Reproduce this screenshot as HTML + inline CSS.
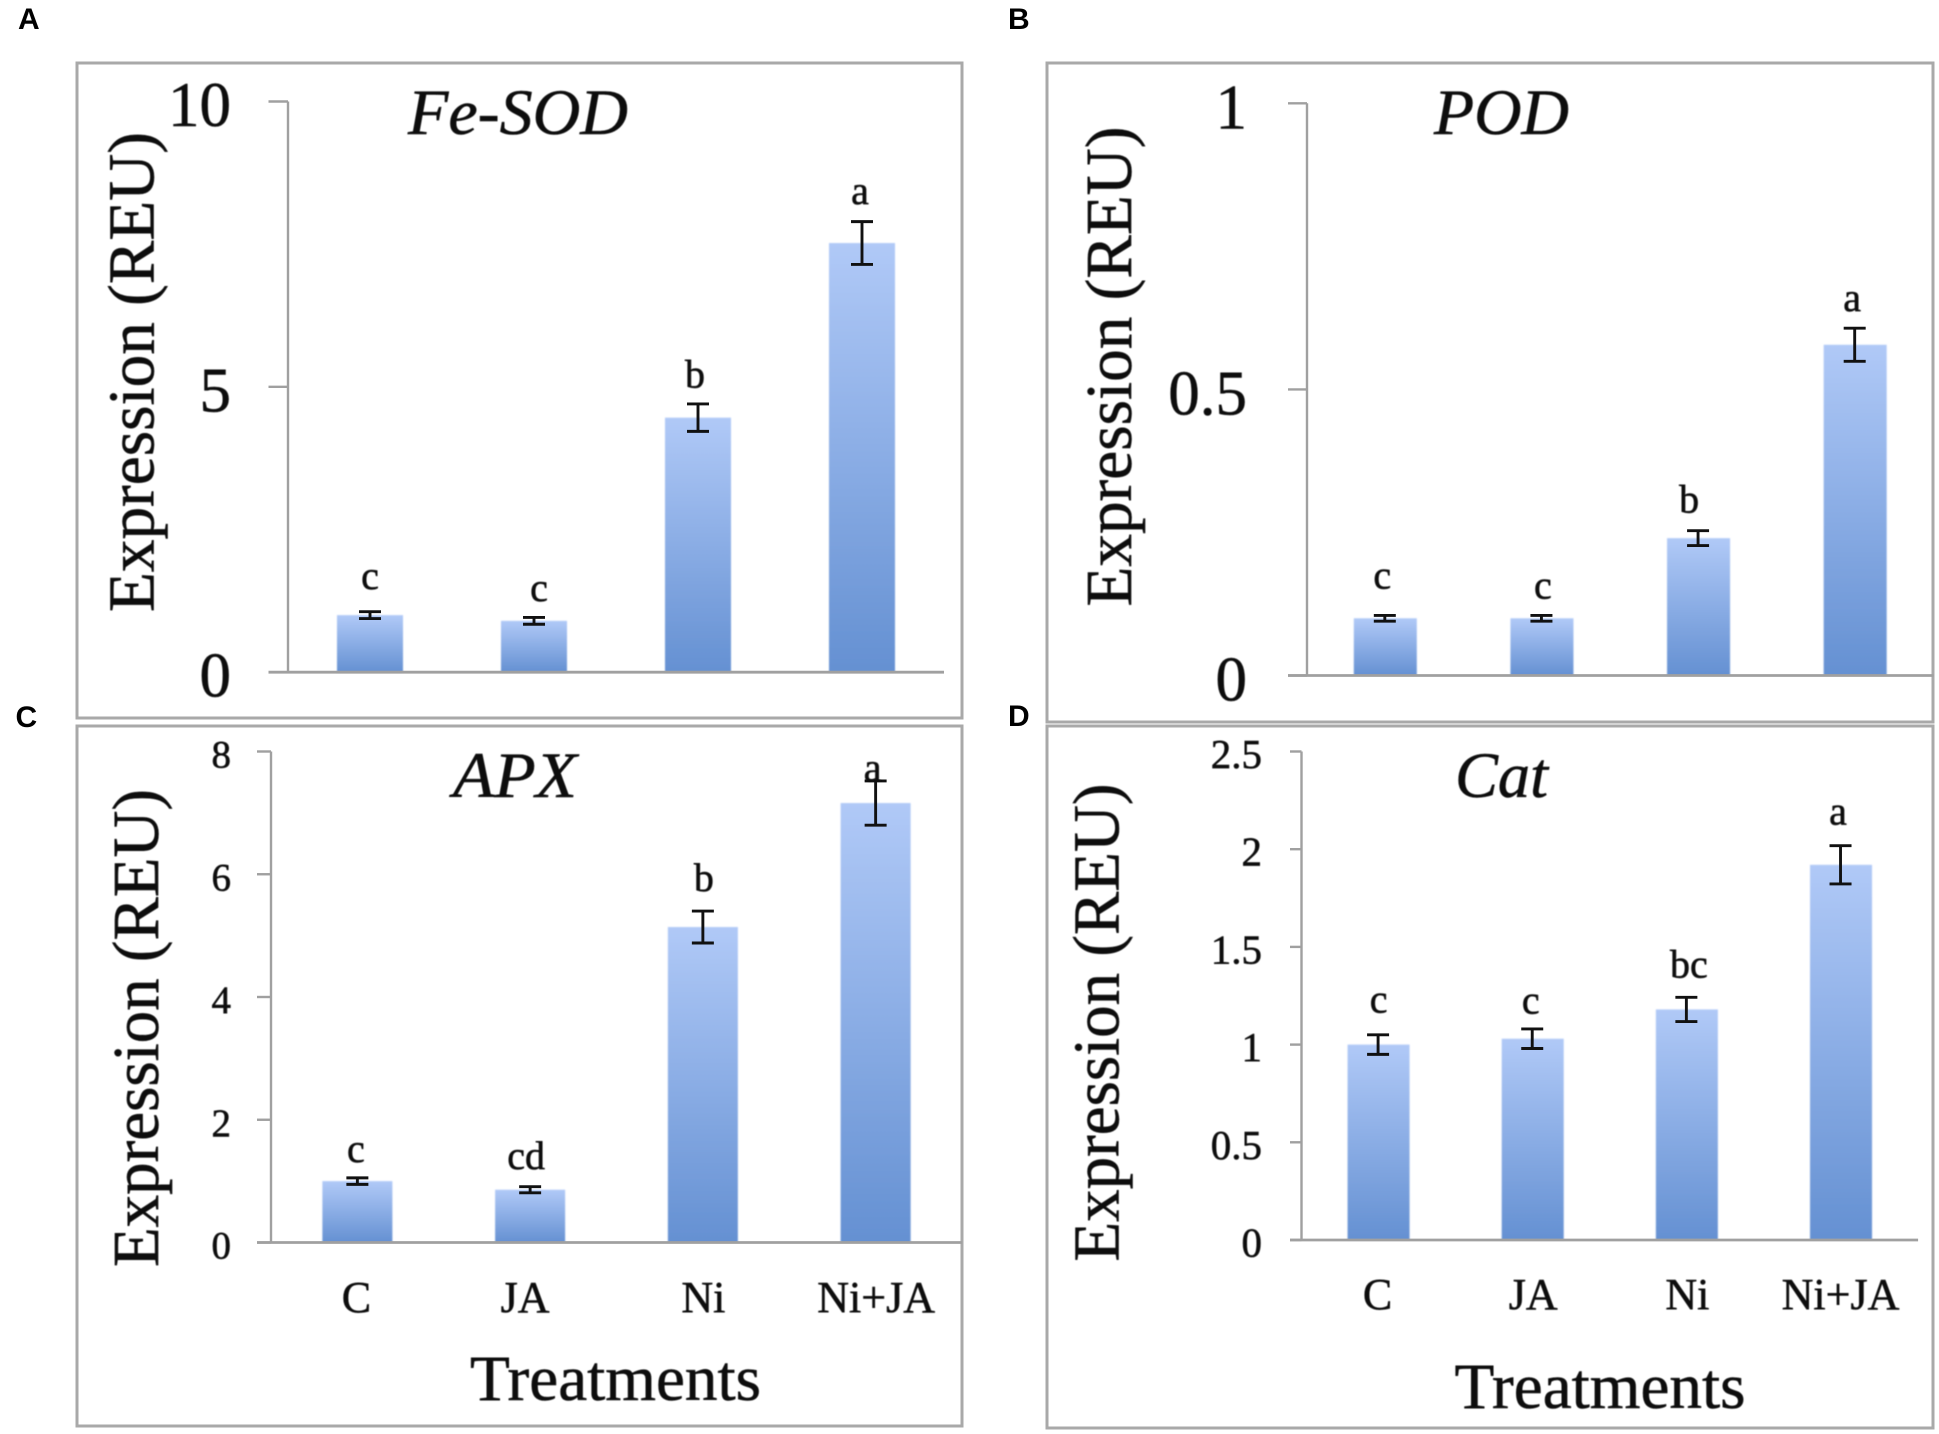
<!DOCTYPE html>
<html lang="en">
<head>
<meta charset="utf-8">
<title>Relative expression of antioxidant genes</title>
<style>
html,body{margin:0;padding:0;background:#fff;width:1939px;height:1434px;overflow:hidden}
svg{display:block}
text{font-family:"Liberation Serif",serif;fill:#0c0c0c;stroke:#0c0c0c;stroke-width:0.55px}
.panel-letter{font-family:"Liberation Sans",sans-serif;font-weight:700;font-size:30px;fill:#000;stroke:none}
.title{font-style:italic;font-size:65px}
.ylab{font-size:66px}
.xlab{font-size:65px}
.frame{fill:none;stroke:#a9a9a9;stroke-width:3}
.soft{filter:url(#soft)}
</style>
</head>
<body>
<svg id="figure" xmlns="http://www.w3.org/2000/svg" width="1939" height="1434" viewBox="0 0 1939 1434">
  <defs>
    <linearGradient id="barGrad" x1="0" y1="0" x2="0" y2="1">
      <stop offset="0" stop-color="#b0c9f7"/>
      <stop offset="1" stop-color="#6490d2"/>
    </linearGradient>
    <filter id="soft" x="-10%" y="-10%" width="120%" height="120%"><feGaussianBlur stdDeviation="0.9"/></filter>
    <filter id="textSoft" x="-5%" y="-5%" width="110%" height="110%"><feGaussianBlur stdDeviation="0.5"/></filter>
  </defs>

  <rect class="frame" x="77" y="63" width="885" height="655"/>
  <rect class="frame" x="1047" y="63" width="886" height="659"/>
  <rect class="frame" x="77" y="726" width="885" height="700"/>
  <rect class="frame" x="1047" y="726" width="886" height="702"/>

  <text class="panel-letter" x="18" y="29">A</text>
  <text class="panel-letter" x="1008" y="29">B</text>
  <text class="panel-letter" x="15.5" y="727">C</text>
  <text class="panel-letter" x="1008" y="726">D</text>

  <g id="plots"></g>

  <g filter="url(#textSoft)">
    <text class="title" x="408" y="134" textLength="220" lengthAdjust="spacingAndGlyphs">Fe-SOD</text>
    <text class="title" x="1434" y="134" textLength="135" lengthAdjust="spacingAndGlyphs">POD</text>
    <text class="title" x="453" y="797" textLength="124" lengthAdjust="spacingAndGlyphs">APX</text>
    <text class="title" x="1455" y="797" textLength="93" lengthAdjust="spacingAndGlyphs">Cat</text>

    <text class="ylab" transform="translate(153.5 612) rotate(-90)" textLength="480" lengthAdjust="spacingAndGlyphs">Expression (REU)</text>
    <text class="ylab" transform="translate(1131 606.5) rotate(-90)" textLength="480" lengthAdjust="spacingAndGlyphs">Expression (REU)</text>
    <text class="ylab" transform="translate(158 1267) rotate(-90)" textLength="478" lengthAdjust="spacingAndGlyphs">Expression (REU)</text>
    <text class="ylab" transform="translate(1118.5 1261.5) rotate(-90)" textLength="478" lengthAdjust="spacingAndGlyphs">Expression (REU)</text>

    <text class="xlab" x="470" y="1400" textLength="291" lengthAdjust="spacingAndGlyphs">Treatments</text>
    <text class="xlab" x="1454.5" y="1408" textLength="291" lengthAdjust="spacingAndGlyphs">Treatments</text>
  </g>
</svg>

<script>
// ---- Data ----
const categories = ['C', 'JA', 'Ni', 'Ni+JA'];

const feSodTicks = ['0', '5', '10'];
const feSodValues = [1.0, 0.9, 4.46, 7.52];
const feSodErrors = [0.06, 0.06, 0.24, 0.375];
const feSodLetters = ['c', 'c', 'b', 'a'];

const podTicks = ['0', '0.5', '1'];
const podValues = [0.1, 0.1, 0.24, 0.578];
const podErrors = [0.005, 0.005, 0.013, 0.029];
const podLetters = ['c', 'c', 'b', 'a'];

const apxTicks = ['0', '2', '4', '6', '8'];
const apxValues = [1.0, 0.86, 5.14, 7.16];
const apxErrors = [0.053, 0.05, 0.26, 0.36];
const apxLetters = ['c', 'cd', 'b', 'a'];

const catTicks = ['0', '0.5', '1', '1.5', '2', '2.5'];
const catValues = [1.0, 1.03, 1.18, 1.92];
const catErrors = [0.05, 0.05, 0.062, 0.098];
const catLetters = ['c', 'c', 'bc', 'a'];

// ---- Drawing ----
const NS = 'http://www.w3.org/2000/svg';
const plots = document.getElementById('plots');

function make(tag, parent, props) {
  const el = document.createElementNS(NS, tag);
  for (const k in props) el.setAttribute(k, props[k]);
  parent.appendChild(el);
  return el;
}

function drawPanel(key, ticks, values, errors, letters, layout, showCategories) {
  const maxTick = parseFloat(ticks[ticks.length - 1]);
  const yScale = v => layout.yBase - (layout.yBase - layout.yTop) * v / maxTick;
  const slot = layout.plotW / categories.length;
  const xScale = i => layout.x0 + slot * (i + 0.5);

  const group = make('g', plots, {});
  
  

  // bars
  values.forEach((v, i) => {
    const bar = make('rect', group, {
      x: xScale(i) - layout.barW / 2,
      y: yScale(v),
      width: layout.barW,
      height: layout.yBase - yScale(v),
      fill: 'url(#barGrad)',
      class: 'soft'
    });
    
    
  });

  // y axis line
  const yAxis = make('line', group, {
    x1: layout.x0, x2: layout.x0, y1: layout.yTop, y2: layout.yBase,
    stroke: '#a0a0a0', 'stroke-width': 2.4
  });
  
  

  // x axis line
  const xAxis = make('line', group, {
    x1: layout.tickLeft, x2: layout.x0 + layout.plotW, y1: layout.yBase, y2: layout.yBase,
    stroke: '#a0a0a0', 'stroke-width': 2.8
  });
  
  

  // ticks and tick labels
  ticks.forEach(label => {
    const y = yScale(parseFloat(label));
    const tick = make('line', group, {
      x1: layout.tickLeft, x2: layout.x0, y1: y, y2: y,
      stroke: '#a0a0a0', 'stroke-width': 2.4
    });
    
    

    const text = make('text', group, {
      x: layout.labelRight, y: y + layout.tickDy,
      'text-anchor': 'end', 'font-size': layout.tickFont, filter: 'url(#textSoft)'
    });
    text.textContent = label;
    
    
  });

  // error bars
  values.forEach((v, i) => {
    const cx = xScale(i) + layout.errDx;
    const hi = yScale(v + errors[i]);
    const lo = yScale(v - errors[i]);
    const err = make('g', group, { stroke: '#111', 'stroke-width': 2.9 });
    
    
    make('line', err, { x1: cx, x2: cx, y1: hi, y2: lo });
    make('line', err, { x1: cx - 11, x2: cx + 11, y1: hi, y2: hi });
    make('line', err, { x1: cx - 11, x2: cx + 11, y1: lo, y2: lo });
  });

  // significance letters sit above each error bar
  letters.forEach((letter, i) => {
    const text = make('text', group, {
      x: xScale(i) + layout.letterDx[i],
      y: yScale(values[i] + errors[i]) - layout.letterGap[i],
      'text-anchor': 'middle', 'font-size': 40, filter: 'url(#textSoft)'
    });
    text.textContent = letter;
    
    
  });

  // category labels
  if (showCategories) {
    categories.forEach((cat, i) => {
      const text = make('text', group, {
        x: xScale(i) + layout.catDx[i], y: layout.catY,
        'text-anchor': 'middle', 'font-size': 44, filter: 'url(#textSoft)'
      });
      text.textContent = cat;
      
      
    });
  }
}

drawPanel('fe-sod', feSodTicks, feSodValues, feSodErrors, feSodLetters, {
  x0: 288, plotW: 656, yTop: 101.5, yBase: 672.2, tickLeft: 268.5,
  labelRight: 231, tickDy: 24.5, tickFont: 63, barW: 66, errDx: 0,
  letterDx: [0, 5, -3, -2], letterGap: [22.7, 16.5, 16.6, 17.6]
}, false);

drawPanel('pod', podTicks, podValues, podErrors, podLetters, {
  x0: 1307, plotW: 626.5, yTop: 103.3, yBase: 675.5, tickLeft: 1288,
  labelRight: 1247, tickDy: 25, tickFont: 63, barW: 63, errDx: -0.5,
  letterDx: [-3, 1, -9.5, -3], letterGap: [27, 17, 18, 17]
}, false);

drawPanel('apx', apxTicks, apxValues, apxErrors, apxLetters, {
  x0: 271, plotW: 691, yTop: 751.5, yBase: 1242.5, tickLeft: 257,
  labelRight: 231, tickDy: 16, tickFont: 39, barW: 70, errDx: 0,
  letterDx: [-1.5, -4, 1, -3], letterGap: [16, 17.5, 20, 0],
  catDx: [-1, -5, 0.5, 0.5], catY: 1312
}, true);

drawPanel('cat', catTicks, catValues, catErrors, catLetters, {
  x0: 1301.5, plotW: 616.6, yTop: 751.5, yBase: 1240, tickLeft: 1290,
  labelRight: 1262, tickDy: 16.5, tickFont: 41, barW: 62, errDx: -0.5,
  letterDx: [0, -2, 2, -3], letterGap: [22.5, 15.5, 20, 21],
  catDx: [-1, 0.5, 0.5, -0.5], catY: 1309
}, true);
</script>
</body>
</html>
